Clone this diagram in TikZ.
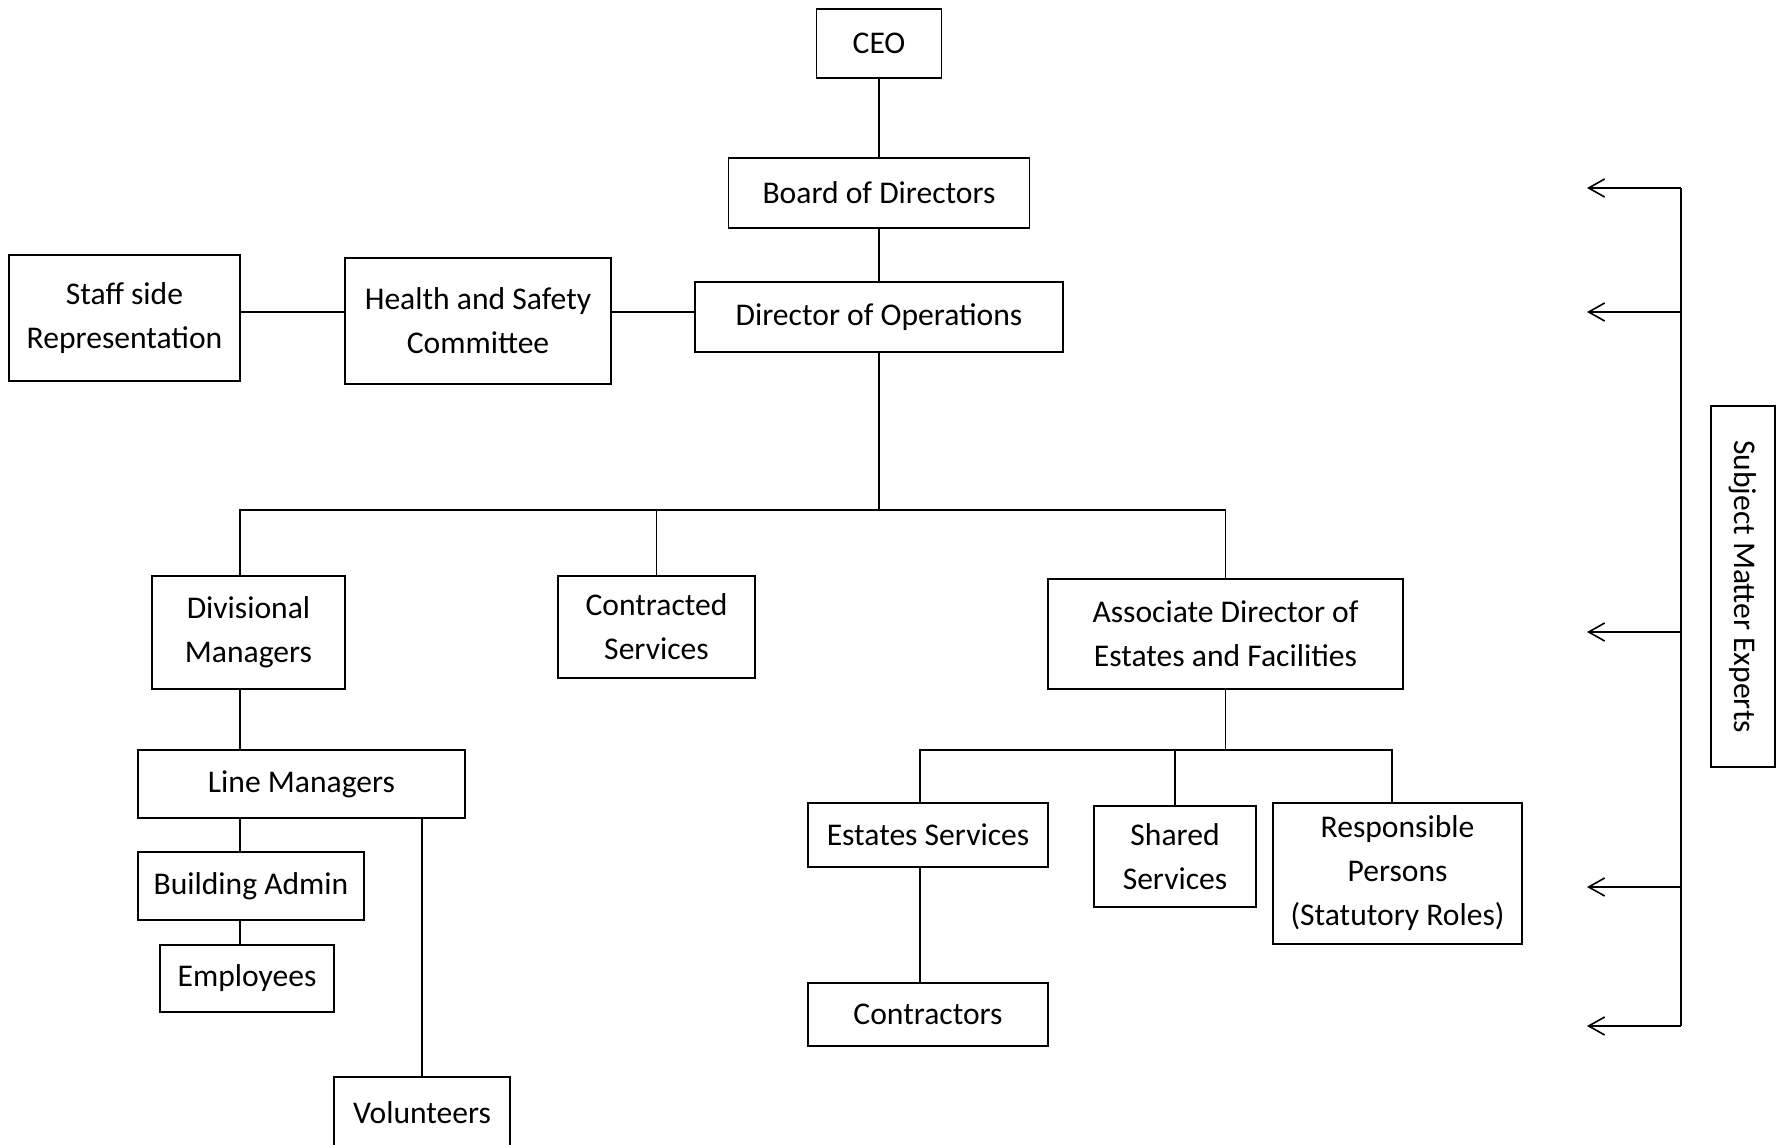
\documentclass[tikz,border=0pt]{standalone}
\usepackage{fontspec}
\setmainfont{Carlito}
\usetikzlibrary{arrows.meta}

\begin{document}
\begin{tikzpicture}[x=0.5pt, y=-0.5pt,
    box/.style={draw, line width=0.8pt, fill=white, align=center, inner sep=0pt,
      font=\fontsize{15.8}{22}\selectfont},
    link/.style={line width=0.8pt},
    pointer/.style={line width=0.8pt, -{Straight Barb[length=8pt, width=9pt]}}]

    \clip (0,0) rectangle (1777,1145);

    \coordinate (hsline) at (0,312);

    \coordinate (bus) at (0,510);

    \coordinate (leftcol) at (240,0);

    \coordinate (subbus) at (0,750);

    \coordinate (escol) at (920,0);

    \coordinate (rpcol) at (1392,0);



    \node[box, minimum width=62.5pt, minimum height=34.5pt] (ceo) at (879,43.5) {CEO};

    \node[box, minimum width=150.5pt, minimum height=35pt] (board) at (879,193) {Board of Directors};

    \node[box, minimum width=184pt, minimum height=35pt] (dirops) at (879,317) {Director of Operations};

    \node[box, minimum width=133pt, minimum height=63pt] (hsc) at (478,321) {Health and Safety\\Committee};

    \node[box, minimum width=115.5pt, minimum height=63pt] (staff) at (124.5,318) {Staff side\\Representation};



    \draw[link] (ceo.south) -- (board.north);

    \draw[link] (board.south) -- (dirops.north);

    \draw[link] (staff.east |- hsline) -- (hsc.west |- hsline);

    \draw[link] (hsc.east |- hsline) -- (dirops.west |- hsline);



    \node[box, minimum width=96.5pt, minimum height=56.5pt] (divm) at (248.5,632.5) {Divisional\\Managers};

    \node[box, minimum width=98.5pt, minimum height=51pt] (cs) at (656.5,627) {Contracted\\Services};

    \node[box, minimum width=177.5pt, minimum height=55pt] (ad) at (1225.5,634) {Associate Director of\\Estates and Facilities};



    \draw[link] (dirops.south) -- (dirops.south |- bus);

    \draw[link] (divm.north -| leftcol) -- (leftcol |- bus) -- (ad.north |- bus) -- (ad.north);

    \draw[link] (cs.north) -- (cs.north |- bus);



    \node[box, minimum width=163.5pt, minimum height=34pt] (lm) at (301.5,784) {Line Managers};

    \node[box, minimum width=113pt, minimum height=34pt] (ba) at (251,886) {Building Admin};

    \node[box, minimum width=87pt, minimum height=33.5pt] (emp) at (247,978.5) {Employees};

    \node[box, minimum width=88pt, minimum height=36pt] (vol) at (422,1113) {Volunteers};



    \draw[link] (divm.south -| leftcol) -- (lm.north -| leftcol);

    \draw[link] (lm.south -| leftcol) -- (ba.north -| leftcol);

    \draw[link] (ba.south -| leftcol) -- (emp.north -| leftcol);

    \draw[link] (lm.south -| vol.north) -- (vol.north);



    \node[box, minimum width=120pt, minimum height=32pt] (es) at (928,835) {Estates Services};

    \node[box, minimum width=81pt, minimum height=50.5pt] (ss) at (1175,856.5) {Shared\\Services};

    \node[box, minimum width=124.5pt, minimum height=70.5pt] (rp) at (1397.5,873.5) {Responsible\\Persons\\(Statutory Roles)};

    \node[box, minimum width=120pt, minimum height=31.5pt] (con) at (928,1014.5) {Contractors};



    \draw[link] (ad.south) -- (ad.south |- subbus);

    \draw[link] (es.north -| escol) -- (escol |- subbus) -- (rpcol |- subbus) -- (rp.north -| rpcol);

    \draw[link] (ss.north) -- (ss.north |- subbus);

    \draw[link] (es.south -| escol) -- (con.north -| escol);



    \coordinate (smetop) at (1681,188);

    \coordinate (smebot) at (1681,1026);

    \draw[link] (smetop) -- (smebot);

    \foreach \y [count=\i] in {188,312,632,887,1026} {
      \coordinate (from\i) at (1681,\y);
      \coordinate (tip\i) at (1587,\y);
      \draw[pointer] (from\i) -- (tip\i);
    }



    \node[box, rotate=-90, minimum width=180.5pt, minimum height=32pt] (sme) at (1743,586.5) {Subject Matter Experts};

  \end{tikzpicture}
\end{document}
